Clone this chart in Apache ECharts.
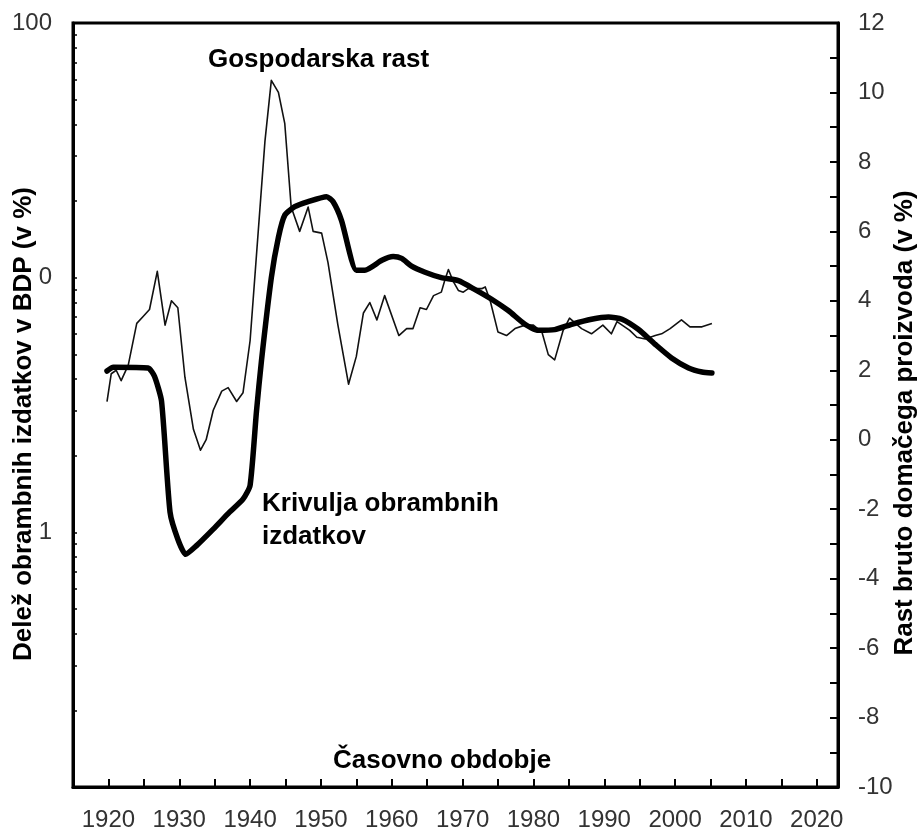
<!DOCTYPE html>
<html>
<head>
<meta charset="utf-8">
<script src="https://cdn.jsdelivr.net/npm/echarts@6/dist/echarts.min.js"></script>
<style>
  html, body { margin: 0; padding: 0; background: #fff; }
  #chart { width: 919px; height: 834px; }
</style>
</head>
<body>
<div id="chart"></div>
<script>
// gospodarska rast (desna os, v %)
const growthYears = [1919.8, 1920.4, 1921.1, 1921.8, 1922.8, 1924, 1924.9, 1925.8, 1926.9, 1928, 1928.9, 1929.8,
  1930.8, 1932, 1933, 1933.8, 1934.8, 1936, 1936.9, 1938.1, 1939, 1940, 1942.1, 1943, 1944, 1944.9, 1945.8,
  1947, 1948.2, 1948.9, 1950.1, 1951, 1952.4, 1953.9, 1955, 1956, 1956.9, 1957.9, 1959, 1961, 1962.1, 1963,
  1964, 1964.9, 1965.9, 1967, 1967.5, 1968, 1968.7, 1969.4, 1970.1, 1970.8, 1972.7, 1973.2, 1973.9, 1975,
  1976.2, 1977.4, 1978.8, 1980, 1981.2, 1982.1, 1983, 1984.2, 1985.1, 1986.8, 1988.2, 1989.8, 1991, 1991.8,
  1993.6, 1994.6, 1995.8, 1997.2, 1998.1, 1999.3, 2000.9, 2002.1, 2003.8, 2005.2];
const growthValues = [1.1, 1.9, 2.0, 1.7, 2.15, 3.35, 3.55, 3.75, 4.85, 3.3, 4.0, 3.8,
  1.8, 0.3, -0.3, 0, 0.85, 1.4, 1.5, 1.1, 1.35, 2.85, 8.6, 10.35, 10.0, 9.1, 6.7,
  6.0, 6.7, 6.0, 5.95, 5.1, 3.3, 1.6, 2.4, 3.65, 3.95, 3.45, 4.15, 3.0, 3.2, 3.2,
  3.8, 3.75, 4.15, 4.25, 4.6, 4.9, 4.55, 4.3, 4.25, 4.35, 4.35, 4.4, 4.0, 3.1,
  3.0, 3.2, 3.3, 3.3, 3.1, 2.45, 2.3, 3.15, 3.5, 3.2, 3.05, 3.3, 3.05, 3.4,
  3.15, 2.95, 2.9, 3.0, 3.05, 3.2, 3.45, 3.25, 3.25, 3.35];

// krivulja obrambnih izdatkov (leva os, logaritemska)
const defenceYears = [1919.8, 1920.7, 1925.6, 1926.5, 1927.5, 1928.7, 1929.8, 1930.9, 1932.4, 1934.8, 1937.1,
  1939, 1940, 1940.9, 1941.6, 1943, 1944, 1944.9, 1946.3, 1948.2, 1950.8, 1951.7, 1952.9, 1955, 1956.2,
  1958.6, 1960.2, 1961.4, 1962.8, 1964.7, 1967, 1969.4, 1971.7, 1974.1, 1976.5, 1978.8, 1980.7, 1983,
  1985.4, 1988.2, 1990.6, 1992.5, 1994.8, 1997.2, 1999.5, 2001.9, 2003.8, 2005.2];
const defenceValues = [4.3, 4.45, 4.42, 4.1, 3.27, 1.2, 0.94, 0.82, 0.885, 1.03, 1.2,
  1.35, 1.53, 2.98, 4.7, 10.0, 14.4, 17.6, 19.0, 19.9, 20.8, 19.9, 16.8, 10.7, 10.7,
  11.7, 12.1, 11.9, 11.1, 10.5, 10.0, 9.73, 9.0, 8.23, 7.41, 6.56, 6.21, 6.25,
  6.56, 6.87, 7.01, 6.87, 6.27, 5.47, 4.84, 4.42, 4.26, 4.22];

// oznake osi
const leftLabels = { 100: '100', 10: '0', 1: '1' };
const leftMinorTicks = [0.2, 0.3, 0.4, 0.5, 0.6, 0.7, 0.8, 0.9, 1, 2, 3, 4, 5, 6, 7, 8, 9, 10,
  20, 30, 40, 50, 60, 70, 80, 90];

const growthData = growthYears.map((y, i) => [y, growthValues[i]]);
const defenceData = defenceYears.map((y, i) => [y, defenceValues[i]]);

const chart = echarts.init(document.getElementById('chart'), null, { renderer: 'canvas' });
const font = '"Liberation Sans", Arial, sans-serif';

const option = {
  animation: false,
  backgroundColor: '#fff',
  grid: {
    left: 73, right: 81, top: 23, bottom: 47,
    show: true, borderColor: '#000', borderWidth: 3
  },
  xAxis: {
    type: 'value',
    min: 1915,
    max: 2023,
    interval: 5,
    axisLine: { show: true, onZero: false, lineStyle: { color: '#000', width: 3 } },
    axisTick: { show: true, inside: true, length: 8, lineStyle: { color: '#000', width: 2 } },
    axisLabel: {
      margin: 21, fontSize: 24, color: '#333', fontFamily: font,
      formatter: v => (v % 10 === 0 && v >= 1920) ? String(v) : ''
    },
    splitLine: { show: false }
  },
  yAxis: [
    {
      type: 'log',
      logBase: 10,
      min: 0.1,
      max: 100,
      position: 'left',
      axisLine: { show: true, onZero: false, lineStyle: { color: '#000', width: 3 } },
      axisTick: { show: true, inside: true, length: 4, customValues: leftMinorTicks,
        lineStyle: { color: '#000', width: 1.5 } },
      axisLabel: {
        margin: 21, fontSize: 24, color: '#333', fontFamily: font,
        formatter: v => leftLabels[Math.round(v * 1000) / 1000] || ''
      },
      splitLine: { show: false }
    },
    {
      type: 'value',
      min: -10,
      max: 12,
      interval: 1,
      position: 'right',
      axisLine: { show: true, onZero: false, lineStyle: { color: '#000', width: 3 } },
      axisTick: { show: true, inside: true, length: 8, lineStyle: { color: '#000', width: 2 } },
      axisLabel: {
        margin: 20, fontSize: 24, color: '#333', fontFamily: font,
        formatter: v => (v % 2 === 0) ? String(v) : ''
      },
      splitLine: { show: false }
    }
  ],
  series: [
    {
      name: 'Gospodarska rast',
      type: 'line',
      yAxisIndex: 1,
      data: growthData,
      showSymbol: false,
      symbol: 'none',
      lineStyle: { color: '#111', width: 1.6, join: 'round' }
    },
    {
      name: 'Krivulja obrambnih izdatkov',
      type: 'line',
      yAxisIndex: 0,
      data: defenceData,
      showSymbol: false,
      symbol: 'none',
      smooth: 0.2,
      lineStyle: { color: '#000', width: 5.5, join: 'round', cap: 'round' }
    }
  ],
  graphic: [
    { type: 'text', left: 208, top: 47,
      style: { text: 'Gospodarska rast', font: 'bold 26px ' + font, fill: '#000' } },
    { type: 'text', left: 262, top: 487,
      style: { text: 'Krivulja obrambnih\nizdatkov', font: 'bold 26px ' + font, lineHeight: 33, fill: '#000' } },
    { type: 'text', left: 333, top: 748,
      style: { text: 'Časovno obdobje', font: 'bold 26px ' + font, fill: '#000' } },
    { type: 'text', x: 24, y: 424, rotation: Math.PI / 2,
      style: { text: 'Delež obrambnih izdatkov v BDP (v %)', font: 'bold 26px ' + font,
        align: 'center', verticalAlign: 'middle', fill: '#000' } },
    { type: 'text', x: 905, y: 423, rotation: Math.PI / 2,
      style: { text: 'Rast bruto domačega proizvoda (v %)', font: 'bold 26px ' + font,
        align: 'center', verticalAlign: 'middle', fill: '#000' } }
  ]
};

chart.setOption(option);
</script>
</body>
</html>
